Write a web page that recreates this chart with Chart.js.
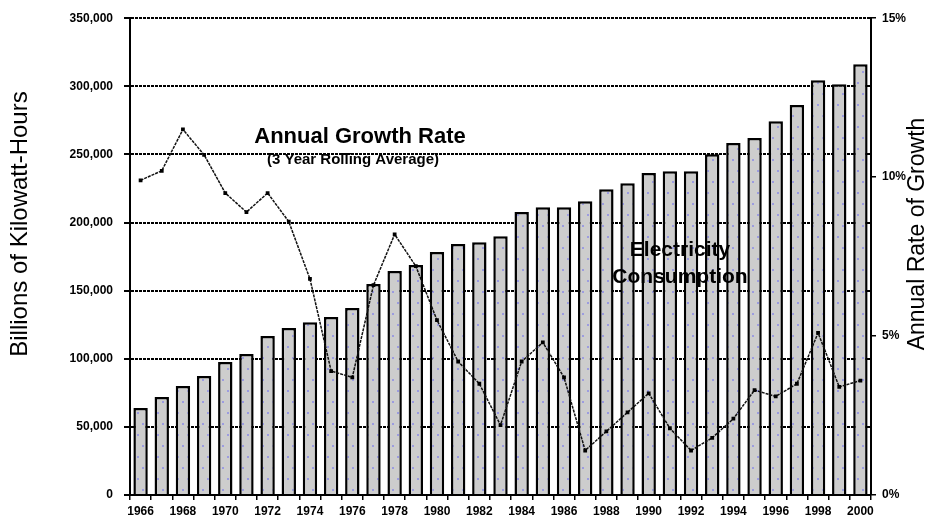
<!DOCTYPE html>
<html>
<head>
<meta charset="utf-8">
<script src="https://cdn.jsdelivr.net/npm/chart.js@4/dist/chart.umd.min.js"></script>
<style>
html,body{margin:0;padding:0;background:#fff;}
#wrap{width:935px;height:518px;position:relative;}
</style>
</head>
<body>
<div id="wrap"><canvas id="c" width="935" height="518"></canvas></div>
<script>
const years = ['1966','1967','1968','1969','1970','1971','1972','1973','1974','1975','1976','1977','1978','1979','1980','1981','1982','1983','1984','1985','1986','1987','1988','1989','1990','1991','1992','1993','1994','1995','1996','1997','1998','1999','2000'];
const consumption = [63800,71900,80000,87300,97600,103500,116700,122500,126900,130600,137200,154800,164400,168800,178300,184200,185600,190000,207700,211300,211300,215700,224500,228900,236300,237700,237700,250200,258300,262000,274400,286200,304500,301600,316200];
const growthRate = [9.9,10.2,11.5,10.7,9.5,8.9,9.5,8.6,6.8,3.9,3.7,6.6,8.2,7.2,5.5,4.2,3.5,2.2,4.2,4.8,3.7,1.4,2.0,2.6,3.2,2.1,1.4,1.8,2.4,3.3,3.1,3.5,5.1,3.4,3.6];
const leftTicks = [0,50000,100000,150000,200000,250000,300000,350000];
const rightTicks = [0,5,10,15];

function makePattern(){
  const c=document.createElement('canvas'); c.width=10; c.height=22;
  const g=c.getContext('2d');
  g.fillStyle='#cdcdcd'; g.fillRect(0,0,10,22);
  g.fillStyle='#9c9ce0'; g.fillRect(2,5,2,2); g.fillRect(7,16,2,2);
  return g.createPattern(c,'repeat');
}

const FONT = '"Liberation Sans", Arial, sans-serif';
const tickFont = {family: FONT, size: 12, weight: 'bold'};

const textPlugin = {
  id:'texts',
  afterDraw(chart){
    const ctx=chart.ctx;
    ctx.save();
    ctx.fillStyle='#000';
    ctx.textAlign='center'; ctx.textBaseline='middle';
    ctx.font='bold 22px '+FONT;
    ctx.fillText('Annual Growth Rate',360,137);
    ctx.font='bold 15px '+FONT;
    ctx.fillText('(3 Year Rolling Average)',353,160);
    ctx.font='bold 21px '+FONT;
    ctx.fillText('Electricity',680,250);
    ctx.fillText('Consumption',680,277);
    ctx.font='24px '+FONT;
    ctx.save(); ctx.translate(20,224); ctx.rotate(-Math.PI/2); ctx.fillText('Billions of Kilowatt-Hours',0,0); ctx.restore();
    ctx.font='23px '+FONT;
    ctx.save(); ctx.translate(918,234); ctx.rotate(-Math.PI/2); ctx.fillText('Annual Rate of Growth',0,0); ctx.restore();
    ctx.restore();
  }
};

new Chart(document.getElementById('c'),{
  data:{
    labels: years,
    datasets:[
      {type:'line', label:'Annual Growth Rate', data: growthRate, yAxisID:'y1', order:0,
       borderColor:'#111', borderWidth:1.5, borderDash:[3,1], pointStyle:'rect', pointRadius:1.6,
       pointBackgroundColor:'#000', pointBorderColor:'#000', tension:0},
      {type:'bar', label:'Electricity Consumption', data: consumption, yAxisID:'y', order:1,
       backgroundColor: makePattern(), borderColor:'#000', borderWidth:2.5,
       categoryPercentage:1.0, barPercentage:0.68}
    ]
  },
  options:{
    responsive:false, animation:false,
    layout:{padding:{top:18,left:0,right:0,bottom:0}},
    plugins:{legend:{display:false}, tooltip:{enabled:false}},
    scales:{
      x:{
        offset:true,
        grid:{display:true, drawOnChartArea:false, offset:true, color:'#000', tickLength:5, lineWidth:1.5},
        border:{display:true, color:'#000', width:2},
        ticks:{autoSkip:false, maxRotation:0, minRotation:0, color:'#000', font:tickFont, padding:4,
          callback:(v,i)=> (i%2===0 ? years[i] : '')},
        afterFit:s=>{s.height=23;}
      },
      y:{
        position:'left', min:0, max:350000, z:1,
        afterBuildTicks:s=>{s.ticks=leftTicks.map(v=>({value:v}));},
        grid:{color:'#000', lineWidth:2, tickLength:6},
        border:{display:true, color:'#000', width:2, dash:[3,1]},
        ticks:{color:'#000', font:tickFont, padding:11, callback:v=>v.toLocaleString('en-US')},
        afterFit:s=>{s.width=130;}
      },
      y1:{
        position:'right', min:0, max:15,
        afterBuildTicks:s=>{s.ticks=rightTicks.map(v=>({value:v}));},
        grid:{drawOnChartArea:false, color:'#000', tickLength:5, lineWidth:1.5},
        border:{display:true, color:'#000', width:2},
        ticks:{color:'#000', font:tickFont, padding:6, callback:v=>v+'%'},
        afterFit:s=>{s.width=64;}
      }
    }
  },
  plugins:[textPlugin]
});
</script>
</body>
</html>
